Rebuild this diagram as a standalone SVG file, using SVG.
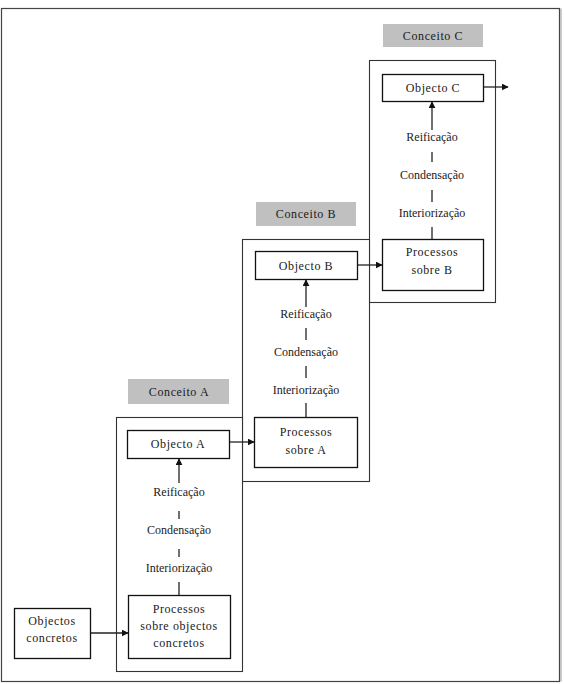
<svg xmlns="http://www.w3.org/2000/svg" width="564" height="684" viewBox="0 0 564 684">
<style>
text{font-family:"Liberation Serif","Times New Roman",serif;font-size:12px;fill:#1a1a1a;text-anchor:middle}
.t{letter-spacing:0.6px}
.lab{fill:#c0c0c0;stroke:none}
.box{fill:#fff;stroke:#111;stroke-width:1.3}
.cont{fill:#fff;stroke:#333;stroke-width:1.1}
.ln{stroke:#222;stroke-width:1.3;fill:none}
</style>
<defs>
<marker id="ah" viewBox="0 0 10 10" refX="9" refY="5" markerWidth="7" markerHeight="7" markerUnits="userSpaceOnUse" orient="auto">
<path d="M0,0 L10,5 L0,10 z" fill="#111"/>
</marker>
</defs>
<rect x="0" y="0" width="564" height="684" fill="#fff"/>
<rect id="frame" x="1.5" y="8.5" width="558" height="673" fill="none" stroke="#444" stroke-width="1.2"/>
<line x1="561" y1="8.5" x2="561" y2="681.5" stroke="#999" stroke-width="1"/>

<g id="conceitoC">
<rect class="cont" x="369.5" y="60.5" width="126" height="242"/>
<rect class="lab" x="383" y="24" width="100" height="23"/>
<text class="t" x="433" y="40">Conceito C</text>
</g>
<g id="conceitoB">
<rect class="cont" x="242.5" y="239.5" width="127" height="242"/>
<rect class="lab" x="256" y="202" width="100" height="24"/>
<text class="t" x="306" y="218">Conceito B</text>
</g>
<g id="conceitoA">
<rect class="cont" x="116.5" y="417.5" width="126" height="254"/>
<rect class="lab" x="128" y="379" width="101" height="25"/>
<text class="t" x="179" y="396">Conceito A</text>
</g>

<g id="objectoC">
<rect class="box" x="382.5" y="74.5" width="101" height="27"/>
<text class="t" x="433" y="92">Objecto C</text>
</g>
<g id="processosB">
<rect class="box" x="382.5" y="239.5" width="101" height="51"/>
<text class="t" x="432" y="256">Processos</text>
<text class="t" x="432" y="274">sobre B</text>
</g>
<g id="objectoB">
<rect class="box" x="255.5" y="251.5" width="102" height="28"/>
<text class="t" x="306" y="270">Objecto B</text>
</g>
<g id="processosA">
<rect class="box" x="254.5" y="417.5" width="103" height="50"/>
<text class="t" x="306" y="436">Processos</text>
<text class="t" x="306" y="454">sobre A</text>
</g>
<g id="objectoA">
<rect class="box" x="127.5" y="430.5" width="102" height="28"/>
<text class="t" x="178" y="448">Objecto A</text>
</g>
<g id="processosConcretos">
<rect class="box" x="128.5" y="595.5" width="102" height="63"/>
<text class="t" x="179" y="613">Processos</text>
<text class="t" x="179" y="630">sobre objectos</text>
<text class="t" x="179" y="647">concretos</text>
</g>
<g id="objectosConcretos">
<rect class="box" x="14.5" y="608.5" width="76" height="50"/>
<text class="t" x="52" y="625">Objectos</text>
<text class="t" x="52" y="642">concretos</text>
</g>

<g id="labelsC">
<text x="432" y="141">Reificação</text>
<text x="432" y="179">Condensação</text>
<text x="432" y="217">Interiorização</text>
</g>
<g id="labelsB">
<text x="306" y="318">Reificação</text>
<text x="306" y="356">Condensação</text>
<text x="306" y="394">Interiorização</text>
</g>
<g id="labelsA">
<text x="179" y="496">Reificação</text>
<text x="179" y="534">Condensação</text>
<text x="179" y="572">Interiorização</text>
</g>

<g id="connectors">
<line class="ln" x1="432" y1="130" x2="432" y2="102" marker-end="url(#ah)"/>
<line class="ln" x1="432" y1="152" x2="432" y2="162"/>
<line class="ln" x1="432" y1="190" x2="432" y2="202"/>
<line class="ln" x1="432" y1="227" x2="432" y2="239"/>
<line class="ln" x1="484" y1="87" x2="508" y2="87" marker-end="url(#ah)"/>

<line class="ln" x1="306" y1="307" x2="306" y2="280" marker-end="url(#ah)"/>
<line class="ln" x1="306" y1="328" x2="306" y2="340"/>
<line class="ln" x1="306" y1="366" x2="306" y2="378"/>
<line class="ln" x1="306" y1="403" x2="306" y2="417"/>
<line class="ln" x1="358" y1="265" x2="382" y2="265" marker-end="url(#ah)"/>

<line class="ln" x1="179" y1="483" x2="179" y2="459" marker-end="url(#ah)"/>
<line class="ln" x1="179" y1="511" x2="179" y2="519"/>
<line class="ln" x1="179" y1="549" x2="179" y2="557"/>
<line class="ln" x1="179" y1="582" x2="179" y2="595"/>
<line class="ln" x1="230" y1="442" x2="254" y2="442" marker-end="url(#ah)"/>

<line class="ln" x1="91" y1="633" x2="128" y2="633" marker-end="url(#ah)"/>
</g>
</svg>
